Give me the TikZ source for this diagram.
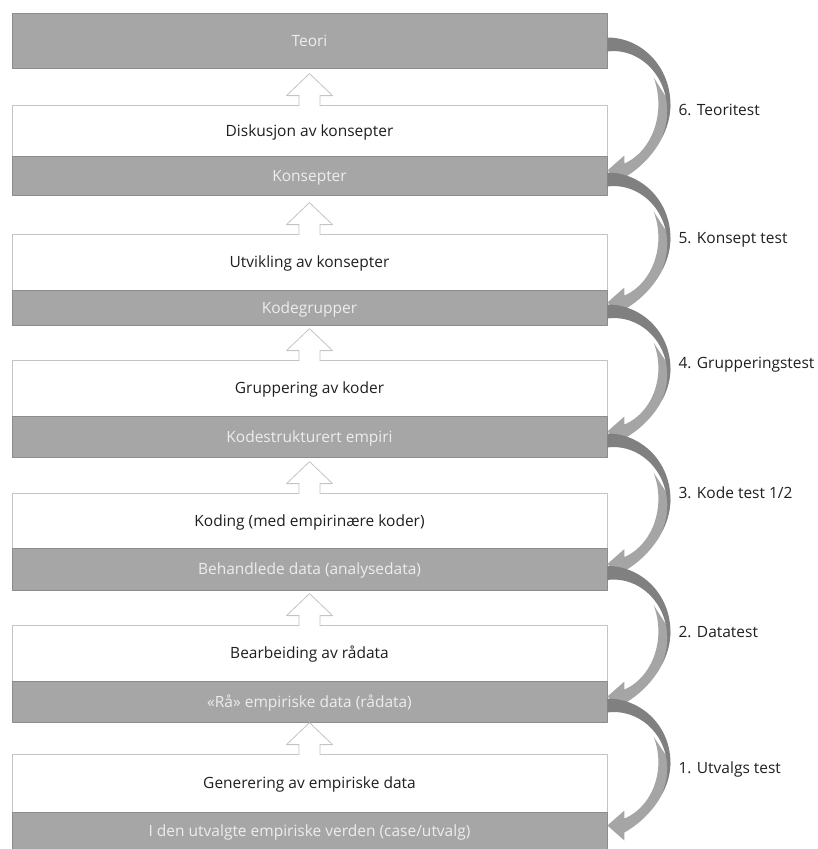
\documentclass[tikz,border=0pt]{standalone}
\usepackage{fontspec}
\setmainfont{Open Sans}
\usetikzlibrary{calc}

\definecolor{boxgray}{HTML}{A6A6A6}
\definecolor{boxline}{HTML}{8C8C8C}
\definecolor{paleline}{HTML}{C4C4C4}
\definecolor{bendback}{HTML}{808080}
\definecolor{bendfront}{HTML}{A5A5A5}

\tikzset{
  graybox/.style={draw=boxline, fill=boxgray, line width=0.8pt, minimum width=595pt,
    inner sep=0pt, text=white!93!black, text height=11pt, text depth=0pt,
    font=\fontsize{15.5}{18}\selectfont},
  whitebox/.style={graybox, draw=paleline, fill=white, text=black!88},
  testlabel/.style={anchor=west, inner sep=0pt, text=black!88, text height=11pt,
    text depth=0pt, font=\fontsize{15.5}{18}\selectfont}
}

% hollow block arrow, its stem opening into box #1
\newcommand{\printLift}[1]{
  \begin{scope}[shift={(#1.north)}]
    \filldraw[fill=white, draw=paleline, line width=0.8pt]
      (-10.5,1.5) -- (-10.5,-9) -- (-23,-9) -- (0,-31) -- (23,-9) -- (10.5,-9) -- (10.5,1.5);
  \end{scope}
}

% curved arrow on the right side, #1 = half its height
\newcommand{\printBend}[1]{
  \pgfmathsetmacro\ro{(#1+7)/sin(74.35)}
  \pgfmathsetmacro\ri{(#1-7)/sin(70.53)}
  \fill[bendfront] plot[domain=0:74.35,samples=30,variable=\t]
      ({63*cos(\t)},{(#1+(\ro-#1)*(\t/74.35)^2)*sin(\t)})
    -- (17,#1+15) -- (0,#1) -- (17,#1-15)
    -- plot[domain=70.53:-25,samples=30,variable=\t] ({51*cos(\t)},{\ri*sin(\t)}) -- cycle;
  \fill[bendback] plot[domain=-90:30,samples=40,variable=\t] ({63*cos(\t)},{#1*sin(\t)})
    -- plot[domain=30:-90,samples=40,variable=\t]
      ({(63-14*(30-\t)/120)*cos(\t)},{(#1-14*(30-\t)/120)*sin(\t)}) -- cycle;
}

\begin{document}
\begin{tikzpicture}[x=1pt,y=-1pt,line join=round]
  \useasboundingbox (0,0) rectangle (817,849);

  \node[graybox, minimum height=55pt] (teori) at (309.5,40.5) {Teori};

  \foreach \i/\wt/\gt/\gb/\wtext/\gtext in {
      1/105/156/195/{Diskusjon av konsepter}/{Konsepter},
      2/234/290/325/{Utvikling av konsepter}/{Kodegrupper},
      3/360/416/457/{Gruppering av koder}/{Kodestrukturert empiri},
      4/493/548/590/{Koding (med empirinære koder)}/{Behandlede data (analysedata)},
      5/625/681/722/{Bearbeiding av rådata}/{«Rå» empiriske data (rådata)},
      6/754/812/849/{Generering av empiriske data}/{I den utvalgte empiriske verden (case/utvalg)}} {
      \pgfmathsetmacro\wh{\gt-\wt}
      \pgfmathsetmacro\gh{\gb-\gt}
      \pgfmathsetmacro\wy{(\wt+\gt)/2}
      \pgfmathsetmacro\gy{(\gt+\gb)/2}
      \node[whitebox, minimum height=\wh pt] (w\i) at (309.5,\wy) {\wtext};
      \node[graybox, minimum height=\gh pt] (g\i) at (309.5,\gy) {\gtext};
    }

  \foreach \i in {1,...,6} {
      \printLift{w\i}
    }

  \foreach \up/\dn/\rad/\dy/\lab in {
      teori/g1/66.5/6/{6. Teoritest},
      g1/g2/65/0/{5. Konsept test},
      g2/g3/63.5/-5/{4. Grupperingstest},
      g3/g4/65.25/-6/{3. Kode test 1/2},
      g4/g5/65.25/1/{2. Datatest},
      g5/g6/63.5/6/{1. Utvalgs test}} {
      \begin{scope}[shift={($(\up.east)!0.5!(\dn.east)$)}, yshift=4pt]
        \printBend{\rad}
        \node[testlabel] (t\dn) at (71,\dy) {\lab};
      \end{scope}
    }
\end{tikzpicture}
\end{document}
